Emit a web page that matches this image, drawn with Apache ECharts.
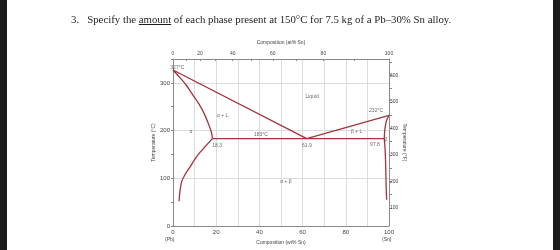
<!DOCTYPE html>
<html><head><meta charset="utf-8">
<script src="https://cdn.jsdelivr.net/npm/echarts@6/dist/echarts.min.js"></script>
<style>
html,body{margin:0;padding:0;background:#fff;width:560px;height:250px;overflow:hidden;position:relative}
#c{position:absolute;left:0;top:0;width:560px;height:250px}
.bar{position:absolute;top:0;height:250px;background:#1b1b1b}
#q{position:absolute;left:71px;top:13px;font-family:"Liberation Serif","Times New Roman",serif;font-size:10.8px;color:#1e1e1e;white-space:nowrap}
</style></head>
<body>
<div id="c"></div>
<div class="bar" style="left:0;width:7px"></div>
<div class="bar" style="left:553px;width:7px"></div>
<div id="q">3.&nbsp;&nbsp; Specify the <u>amount</u> of each phase present at 150°C for 7.5 kg of a Pb–30% Sn alloy.</div>
<script>
// ---- data (wt% Sn, °C) ----
const liquidusLeft = [[0,327],[61.9,183]];
const liquidusRight = [[61.9,183],[100,232]];
const eutecticLine = [[18.3,183],[97.8,183]];
const alphaSolidus = [[0,327],[3,312],[6,296],[9,276],[12,256],[14.5,235],[16.5,213],[17.8,196],[18.3,183]];
const alphaSolvus = [[18.3,183],[17.6,180],[14.8,166],[11,146],[7.9,124],[5.6,108],[4.1,94],[3.3,75],[2.8,52]];
const betaSolidus = [[100,232],[98.8,220],[98.1,203],[97.8,183]];
const betaSolvus = [[97.8,183],[98.2,160],[98.5,120],[98.7,80],[98.9,55]];
const regionLabels = [
  [2,331,'327°C'],[23,231,'α + L'],[8.3,197,'α'],[40.7,191,'183°C'],
  [20.4,168,'18.3'],[62,168,'61.9'],[93.5,170,'97.8'],[64.4,271,'Liquid'],
  [94,241,'232°C'],[85,197,'β + L'],[98.6,181,'β'],[52.3,92,'α + β']
];
const bottomTicks = [0,20,40,60,80,100];
const topAtPct = [0,10,20,30,40,50,60,70,80,90,100];
const topAtLabels = [0,20,40,60,80,100];
const fTicks = [100,150,200,250,300,350,400,450,500,550,600,650];
const fLabels = [100,200,300,400,500,600];
const MSn = 118.71, MPb = 207.2;

function atToWt(a){ if(a<=0) return 0; if(a>=100) return 100; const s=a*MSn, p=(100-a)*MPb; return 100*s/(s+p); }
const topTickWt = topAtPct.map(atToWt);
const topLabelWt = topAtLabels.map(atToWt);

const TMAX = 350;
const gridColor = '#dcdcdc', axisColor = '#8a8a8a', txt = '#444', red = '#a3333d';
const font = '"Liberation Sans", Arial, sans-serif';

const chart = echarts.init(document.getElementById('c'), null, {renderer:'canvas'});
function lineSeries(data, smooth){
  return {type:'line', data, xAxisIndex:0, yAxisIndex:0, symbol:'none', smooth: smooth?0.3:false,
    lineStyle:{color:red,width:1.3}, silent:true, animation:false, z:5};
}
chart.setOption({
  animation:false,
  grid:{left:173,right:171,top:59,bottom:24,containLabel:false},
  xAxis:[
    {type:'value',position:'bottom',min:0,max:100,interval:20,
     name:'Composition (wt% Sn)',nameLocation:'middle',nameGap:12,
     nameTextStyle:{fontSize:5,color:txt,fontFamily:font},
     axisLine:{show:true,onZero:false,lineStyle:{color:axisColor,width:1}},
     axisTick:{show:false},
     axisLabel:{fontSize:6,color:txt,margin:3,fontFamily:font},
     splitLine:{show:true,lineStyle:{color:gridColor,width:1}},
     minorTick:{show:false,splitNumber:2},
     minorSplitLine:{show:true,lineStyle:{color:gridColor,width:1}}},
    {type:'value',position:'top',min:0,max:100,
     name:'Composition (at% Sn)',nameLocation:'middle',nameGap:14,
     nameTextStyle:{fontSize:5,color:txt,fontFamily:font},
     axisLine:{show:true,onZero:false,lineStyle:{color:axisColor,width:1}},
     axisTick:{show:true,inside:true,length:2,customValues:topTickWt,lineStyle:{color:axisColor}},
     axisLabel:{fontSize:5,color:txt,margin:3,fontFamily:font,customValues:topLabelWt,
       formatter:function(v){ let best=0,bd=1e9; topAtLabels.forEach(a=>{const d=Math.abs(atToWt(a)-v); if(d<bd){bd=d;best=a;}}); return String(best);} },
     splitLine:{show:false}}
  ],
  yAxis:[
    {type:'value',position:'left',min:0,max:TMAX,interval:100,
     name:'Temperature (°C)',nameLocation:'middle',nameGap:15,nameRotate:90,
     nameTextStyle:{fontSize:5,color:txt,fontFamily:font},
     axisLine:{show:true,onZero:false,lineStyle:{color:axisColor,width:1}},
     axisTick:{show:true,length:2,lineStyle:{color:axisColor}},
     minorTick:{show:true,splitNumber:2,length:2,lineStyle:{color:axisColor}},
     axisLabel:{fontSize:6,color:txt,margin:3,fontFamily:font,showMaxLabel:false},
     splitLine:{show:true,lineStyle:{color:gridColor,width:1}}},
    {type:'value',position:'right',min:32,max:TMAX*1.8+32,
     name:'Temperature (°F)',nameLocation:'middle',nameGap:12,nameRotate:-90,
     nameTextStyle:{fontSize:5,color:txt,fontFamily:font},
     axisLine:{show:true,onZero:false,lineStyle:{color:axisColor,width:1}},
     axisTick:{show:true,length:3,customValues:fTicks,lineStyle:{color:axisColor}},
     axisLabel:{fontSize:5,color:txt,margin:1,fontFamily:font,customValues:fLabels},
     splitLine:{show:false}}
  ],
  graphic:[
    {type:'text',left:165,top:237,style:{text:'(Pb)',fontSize:5,fill:txt,fontFamily:font}},
    {type:'text',left:382,top:237,style:{text:'(Sn)',fontSize:5,fill:txt,fontFamily:font}}
  ],
  series:[
    lineSeries(liquidusLeft,false),
    lineSeries(liquidusRight,false),
    lineSeries(eutecticLine,false),
    lineSeries(alphaSolidus,true),
    lineSeries(alphaSolvus,true),
    lineSeries(betaSolidus,true),
    lineSeries(betaSolvus,true),
    {type:'scatter',xAxisIndex:0,yAxisIndex:0,symbolSize:0,silent:true,z:6,
     data:regionLabels.map(d=>({value:[d[0],d[1]],name:d[2]})),
     label:{show:true,position:'inside',formatter:p=>p.name,fontSize:5,color:txt,fontFamily:font}}
  ]
});
</script>
</body></html>
